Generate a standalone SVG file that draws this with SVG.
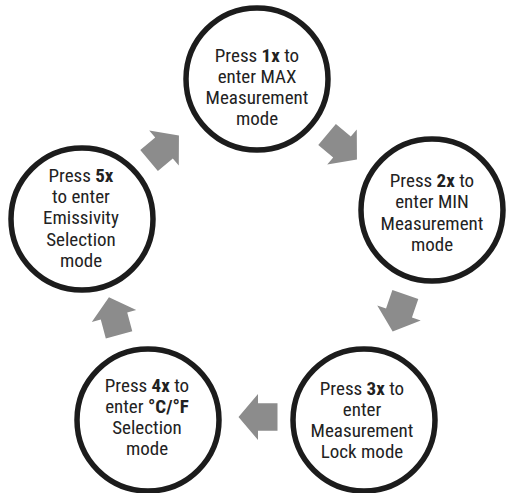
<svg xmlns="http://www.w3.org/2000/svg" width="506" height="493" viewBox="0 0 506 493">
<defs>
<style>
.node circle{fill:#fff;stroke:#1c1c1c;stroke-width:5.5}
.node text{font-family:"Liberation Sans Narrow","Roboto Condensed","Liberation Sans",sans-serif;font-size:19px;fill:#222;text-anchor:middle}
.b{font-weight:bold}
.arrow{fill:#8c8c8c}
</style>
<path id="arr" d="M-19.5,-13.7 H0 V-23 L19.5,0 L0,23 V13.7 H-19.5 Z"/>
</defs>
<rect width="506" height="493" fill="#fff"/>
<g id="connectors">
<use href="#arr" class="arrow" transform="translate(342,147) rotate(40)"/>
<use href="#arr" class="arrow" transform="translate(399,313) rotate(109)"/>
<use href="#arr" class="arrow" transform="translate(258,417) rotate(180)"/>
<use href="#arr" class="arrow" transform="translate(114,316) rotate(255)"/>
<use href="#arr" class="arrow" transform="translate(164,148) rotate(-40)"/>
</g>
<g id="node-max" class="node">
<circle cx="257" cy="79" r="71"/>
<text x="257" y="61.5">Press <tspan class="b">1x</tspan> to</text>
<text x="257" y="82.5">enter MAX</text>
<text x="257" y="103.5">Measurement</text>
<text x="257" y="124.5">mode</text>
</g>
<g id="node-min" class="node">
<circle cx="432" cy="210" r="71"/>
<text x="432" y="187">Press <tspan class="b">2x</tspan> to</text>
<text x="432" y="208">enter MIN</text>
<text x="432" y="229.5">Measurement</text>
<text x="432" y="251">mode</text>
</g>
<g id="node-lock" class="node">
<circle cx="364" cy="420" r="71"/>
<text x="362" y="395">Press <tspan class="b">3x</tspan> to</text>
<text x="362" y="416">enter</text>
<text x="362" y="437">Measurement</text>
<text x="362" y="458">Lock mode</text>
</g>
<g id="node-unit" class="node">
<circle cx="148" cy="420" r="71"/>
<text x="147" y="391.7">Press <tspan class="b">4x</tspan> to</text>
<text x="147" y="412.8">enter <tspan class="b">°C/°F</tspan></text>
<text x="147" y="433.9">Selection</text>
<text x="147" y="455">mode</text>
</g>
<g id="node-emis" class="node">
<circle cx="82" cy="219" r="71"/>
<text x="81" y="181.7">Press <tspan class="b">5x</tspan></text>
<text x="81" y="203">to enter</text>
<text x="81" y="224.2">Emissivity</text>
<text x="81" y="245.5">Selection</text>
<text x="81" y="266.7">mode</text>
</g>
</svg>
